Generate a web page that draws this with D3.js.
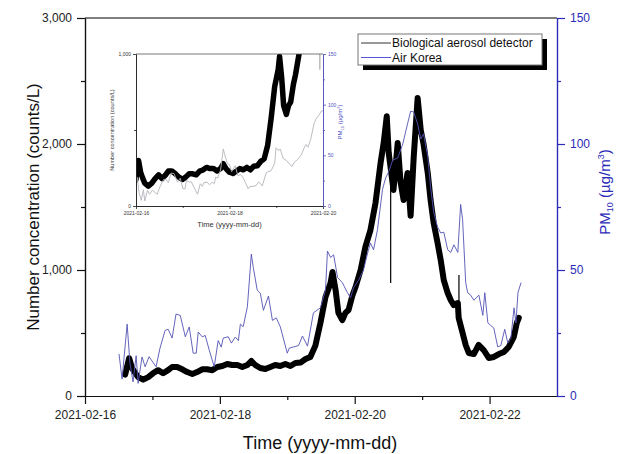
<!DOCTYPE html>
<html>
<head>
<meta charset="utf-8">
<script src="https://cdn.jsdelivr.net/npm/d3@7/dist/d3.min.js"></script>
<style>
  body { margin: 0; background: #fff; }
  svg, svg text { font-family: "Liberation Sans", Arial, sans-serif; }
</style>
</head>
<body>
<div class="canvas"></div>
<script>
// Biological aerosol detector (hours since 2021-02-16 00:00, counts/L)
const bioHours = [14.3, 15.7, 16.8, 17.8, 18.9, 20.7, 22.5, 24.2, 26.0, 27.8, 29.6, 31.0, 32.8, 34.6, 36.4,
  38.2, 39.9, 41.7, 43.5, 45.3, 47.1, 48.9, 50.6, 52.4, 54.2, 56.0, 57.8, 59.2, 60.6, 62.4, 64.2, 66.0,
  67.7, 69.5, 71.3, 73.1, 74.9, 76.7, 78.5, 80.2, 82.0, 83.8, 85.6, 87.4, 88.1, 89.2, 90.2, 91.6, 92.7,
  93.8, 95.2, 96.3, 98.1, 99.8, 101.6, 103.4, 105.2, 106.3, 107.4, 108.1, 109.8, 111.3, 112.3, 113.4,
  114.8, 115.9, 117.0, 118.4, 119.5, 120.5, 122.0, 123.0, 124.1, 125.5, 126.6, 127.7, 129.1, 130.2,
  131.2, 132.7, 133.0, 134.4, 135.5, 136.6, 138.4, 140.1, 141.9, 143.7, 145.5, 147.3, 149.1, 150.8,
  152.6, 153.7, 154.4];
const bioCounts = [170, 300, 220, 185, 150, 130, 150, 180, 205, 180, 205, 230, 230, 212, 190,
  175, 190, 212, 212, 205, 230, 238, 254, 246, 246, 230, 246, 278, 246, 222, 214, 230,
  246, 238, 254, 238, 262, 265, 294, 310, 400, 580, 786, 897, 984, 840, 660, 603, 660,
  683, 800, 865, 1000, 1183, 1317, 1532, 1849, 2008, 2220, 1929, 1635, 2008, 1700, 1556,
  1770, 1430, 1897, 2365, 2111, 2000, 1770, 1556, 1373, 1214, 1080, 920, 817, 760,
  722, 738, 620, 500, 405, 341, 333, 405, 365, 302, 310, 333, 349, 389,
  468, 580, 620];

// single-sample spikes of the detector
const spikeHours = [108.8, 133.1];
const spikeFrom = [1900, 640];
const spikeTo = [897, 960];

// Air Korea PM10 (hours since 2021-02-16 00:00, ug/m3)
const pmHours = [12.1, 13.2, 15.0, 16.0, 17.1, 18.2, 18.9, 20.3, 21.4, 22.8, 25.3, 26.7, 28.5, 29.6,
  31.0, 32.4, 33.9, 35.7, 37.1, 38.5, 39.6, 40.3, 41.7, 42.8, 44.2, 46.0, 47.4, 48.5, 49.2, 51.0,
  52.1, 53.5, 54.6, 55.3, 56.3, 57.8, 59.2, 59.9, 61.3, 62.4, 63.5, 65.3, 66.7, 68.1, 69.5, 72.0,
  72.7, 76.0, 77.4, 79.2, 81.3, 83.8, 85.6, 86.3, 87.4, 88.5, 89.9, 91.6, 93.4, 94.5, 95.6, 97.4,
  99.1, 100.6, 101.6, 102.7, 104.1, 105.9, 107.0, 108.1, 109.5, 111.3, 113.1, 114.8, 115.9, 117.0,
  118.4, 119.5, 120.5, 122.0, 123.0, 124.1, 125.5, 126.6, 127.7, 129.1, 130.2, 131.3, 132.7, 133.7,
  134.4, 135.5, 136.2, 137.3, 138.4, 140.2, 141.6, 142.3, 143.4, 144.4, 145.5, 146.9, 148.0, 149.4,
  150.5, 151.6, 152.7, 153.4, 154.1, 155.2];
const pmValues = [16.7, 6.7, 28.5, 13, 5.6, 16, 5, 15.5, 11.6, 15.6, 11.6, 19, 26, 26.5,
  23, 32.5, 32, 23.5, 27.4, 17, 17, 25.4, 23.5, 24, 18.3, 11.6, 22, 19.4, 23, 23.5,
  21, 23.4, 22, 28.5, 27.5, 35.4, 56.3, 51, 42, 40.8, 34, 39.7, 30, 31, 27.5, 17,
  19, 20, 23.8, 19.8, 33, 35, 42, 57.5, 55, 56, 47, 45, 41, 39, 43, 46,
  50, 56.7, 60.7, 58, 66, 82, 86.5, 89, 93.6, 94.4, 100, 108, 113, 112.7,
  108, 102, 104, 95, 83, 73, 67, 64.7, 65, 58, 57, 60, 57, 76,
  70, 45, 41, 40, 38, 40, 32, 41, 29, 28, 27, 19.5, 20, 26.5,
  21, 23, 35, 29, 41, 45];

const countTicks = [0, 1000, 2000, 3000];
const countMinor = [500, 1500, 2500];
const pmTicks = [0, 50, 100, 150];
const pmMinor = [25, 75, 125];
const dateTicks = ['2021-02-16', '2021-02-18', '2021-02-20', '2021-02-22'];
const dateMinor = ['2021-02-17', '2021-02-19', '2021-02-21'];
const seriesNames = ['Biological aerosol detector', 'Air Korea'];

// inset window: 96 h starting at the first detector sample
const insetStartHour = 14.4;
const insetTickHours = [0, 48, 96];
const insetMinorHours = [24, 72];

const parseDay = d3.timeParse('%Y-%m-%d');
const t0 = parseDay('2021-02-16');
const atHour = h => d3.timeMinute.offset(t0, Math.round(h * 60));

const bioData = bioHours.map((h, i) => ({ t: atHour(h), v: bioCounts[i] }));
const pmData = pmHours.map((h, i) => ({ t: atHour(h), v: pmValues[i] }));
const spikes = spikeHours.map((h, i) => ({ t: atHour(h), a: spikeFrom[i], b: spikeTo[i] }));

const blue = '#2b2bb8';
const pmLine = '#5252b4';

const svg = d3.select('.canvas')
  .append('svg')
  .attr('width', 617)
  .attr('height', 454);

// ---------- main chart ----------
const plot = { left: 85, right: 557, top: 18, bottom: 396 };

const x = d3.scaleTime()
  .domain([parseDay('2021-02-16'), parseDay('2021-02-23')])
  .range([plot.left, plot.right]);
const y = d3.scaleLinear().domain([0, 3000]).range([plot.bottom, plot.top]);
const yR = d3.scaleLinear().domain([0, 150]).range([plot.bottom, plot.top]);

svg.append('clipPath').attr('id', 'clipMain')
  .append('rect')
  .attr('x', plot.left).attr('y', plot.top)
  .attr('width', plot.right - plot.left).attr('height', plot.bottom - plot.top);

const graph = svg.append('g').attr('clip-path', 'url(#clipMain)');

const bioLine = d3.line().x(d => x(d.t)).y(d => y(d.v));
const pmPath = d3.line().x(d => x(d.t)).y(d => yR(d.v));

graph.append('path')
  .datum(bioData)
  .attr('d', bioLine)
  .attr('fill', 'none')
  .attr('stroke', '#000')
  .attr('stroke-width', 6)
  .attr('stroke-linejoin', 'round')
  .attr('stroke-linecap', 'round');

graph.selectAll('.spike')
  .data(spikes)
  .enter().append('line')
  .attr('x1', d => x(d.t)).attr('x2', d => x(d.t))
  .attr('y1', d => y(d.a)).attr('y2', d => y(d.b))
  .attr('stroke', '#000').attr('stroke-width', 1.2);

graph.append('path')
  .datum(pmData)
  .attr('d', pmPath)
  .attr('fill', 'none')
  .attr('stroke', pmLine)
  .attr('stroke-width', 0.9);

// top frame line
svg.append('line')
  .attr('x1', plot.left).attr('x2', plot.right)
  .attr('y1', plot.top).attr('y2', plot.top)
  .attr('stroke', '#000').attr('stroke-width', 1.2);

// left axis
svg.append('g').attr('transform', `translate(${plot.left},0)`)
  .call(d3.axisLeft(y).tickValues(countTicks).tickSize(8).tickSizeOuter(0).tickPadding(5)
    .tickFormat(d3.format(',')));
svg.append('g').attr('transform', `translate(${plot.left},0)`)
  .call(d3.axisLeft(y).tickValues(countMinor).tickSize(4).tickSizeOuter(0).tickFormat(''));

// bottom axis
svg.append('g').attr('transform', `translate(0,${plot.bottom})`)
  .call(d3.axisBottom(x).tickValues(dateTicks.map(parseDay)).tickSize(8).tickSizeOuter(0)
    .tickPadding(6).tickFormat(d3.timeFormat('%Y-%m-%d')));
svg.append('g').attr('transform', `translate(0,${plot.bottom})`)
  .call(d3.axisBottom(x).tickValues(dateMinor.map(parseDay)).tickSize(4).tickSizeOuter(0).tickFormat(''));

// right axis
svg.append('g').attr('class', 'raxis').attr('transform', `translate(${plot.right},0)`)
  .call(d3.axisRight(yR).tickValues(pmTicks).tickSize(8).tickSizeOuter(0).tickPadding(5));
svg.append('g').attr('class', 'raxis').attr('transform', `translate(${plot.right},0)`)
  .call(d3.axisRight(yR).tickValues(pmMinor).tickSize(4).tickSizeOuter(0).tickFormat(''));

svg.selectAll('g').attr('font-family', null);
svg.selectAll('.tick text').attr('font-size', 12).attr('fill', '#222');
svg.selectAll('.domain, .tick line').attr('stroke', '#111').attr('stroke-width', 1.2);
svg.selectAll('.raxis .domain, .raxis .tick line').attr('stroke', blue);
svg.selectAll('.raxis .tick text').attr('fill', blue);

// axis titles
svg.append('text')
  .attr('transform', `translate(39,${(plot.top + plot.bottom) / 2}) rotate(-90)`)
  .attr('text-anchor', 'middle')
  .attr('font-size', 17)
  .attr('fill', '#111')
  .text('Number concentration (counts/L)');

svg.append('text')
  .attr('x', (plot.left + plot.right) / 2 - 1)
  .attr('y', 449)
  .attr('text-anchor', 'middle')
  .attr('font-size', 18)
  .attr('fill', '#111')
  .text('Time (yyyy-mm-dd)');

const pmTitle = svg.append('text')
  .attr('transform', `translate(610,192) rotate(-90)`)
  .attr('text-anchor', 'middle')
  .attr('font-size', 15)
  .attr('fill', blue);
pmTitle.append('tspan').text('PM');
pmTitle.append('tspan').attr('font-size', 9).attr('dy', 3).text('10');
pmTitle.append('tspan').attr('dy', -3).text(' (µg/m');
pmTitle.append('tspan').attr('font-size', 9).attr('dy', -6).text('3');
pmTitle.append('tspan').attr('dy', 6).text(')');

// ---------- legend ----------
const legend = svg.append('g').attr('transform', 'translate(358,34)');
legend.append('rect').attr('x', 5).attr('y', 5).attr('width', 184).attr('height', 31).attr('fill', '#000');
legend.append('rect').attr('x', 0).attr('y', 0).attr('width', 184).attr('height', 31)
  .attr('fill', '#fff').attr('stroke', '#777').attr('stroke-width', 1);
const legendColors = ['#333', '#5555d8'];
seriesNames.forEach((name, i) => {
  const ly = 9 + i * 14.5;
  legend.append('line').attr('x1', 3).attr('x2', 33).attr('y1', ly).attr('y2', ly)
    .attr('stroke', legendColors[i]).attr('stroke-width', 1);
  legend.append('text').attr('x', 34).attr('y', ly + 4).attr('font-size', 12).attr('fill', '#111').text(name);
});

// ---------- inset ----------
const inset = { left: 136, right: 323, top: 54, bottom: 206 };
const insetStart = atHour(insetStartHour);

const xi = d3.scaleTime()
  .domain([insetStart, atHour(insetStartHour + 96)])
  .range([inset.left, inset.right]);
const yi = d3.scaleLinear().domain([0, 1000]).range([inset.bottom, inset.top]);
const yiR = d3.scaleLinear().domain([0, 150]).range([inset.bottom, inset.top]);

const ig = svg.append('g');
ig.append('rect').attr('x', 106).attr('y', 46).attr('width', 242).attr('height', 186).attr('fill', '#fff');

svg.append('clipPath').attr('id', 'clipInset')
  .append('rect')
  .attr('x', inset.left).attr('y', inset.top)
  .attr('width', inset.right - inset.left).attr('height', inset.bottom - inset.top);

const ip = ig.append('g').attr('clip-path', 'url(#clipInset)');

ip.append('path')
  .datum(bioData)
  .attr('d', d3.line().x(d => xi(d.t)).y(d => yi(d.v)))
  .attr('fill', 'none')
  .attr('stroke', '#000')
  .attr('stroke-width', 5.5)
  .attr('stroke-linejoin', 'round')
  .attr('stroke-linecap', 'round');

ip.selectAll('.spike')
  .data(spikes)
  .enter().append('line')
  .attr('x1', d => xi(d.t)).attr('x2', d => xi(d.t))
  .attr('y1', d => yi(d.a)).attr('y2', d => yi(d.b))
  .attr('stroke', '#999').attr('stroke-width', 1);

ip.append('path')
  .datum(pmData)
  .attr('d', d3.line().x(d => xi(d.t)).y(d => yiR(d.v)))
  .attr('fill', 'none')
  .attr('stroke', '#b4b4bc')
  .attr('stroke-width', 0.9);

ig.append('line')
  .attr('x1', inset.left).attr('x2', inset.right)
  .attr('y1', inset.top).attr('y2', inset.top)
  .attr('stroke', '#555').attr('stroke-width', 0.8);

ig.append('g').attr('class', 'iaxis').attr('transform', `translate(${inset.left},0)`)
  .call(d3.axisLeft(yi).tickValues([0, 1000]).tickSize(3).tickSizeOuter(0).tickPadding(2)
    .tickFormat(d3.format(',')));
ig.append('g').attr('class', 'iaxis').attr('transform', `translate(${inset.left},0)`)
  .call(d3.axisLeft(yi).tickValues([500]).tickSize(2).tickSizeOuter(0).tickFormat(''));

ig.append('g').attr('class', 'iaxis').attr('transform', `translate(0,${inset.bottom})`)
  .call(d3.axisBottom(xi).tickValues(insetTickHours.map(h => atHour(insetStartHour + h)))
    .tickSize(3).tickSizeOuter(0).tickPadding(2).tickFormat(d3.timeFormat('%Y-%m-%d')));
ig.append('g').attr('class', 'iaxis').attr('transform', `translate(0,${inset.bottom})`)
  .call(d3.axisBottom(xi).tickValues(insetMinorHours.map(h => atHour(insetStartHour + h)))
    .tickSize(2).tickSizeOuter(0).tickFormat(''));

ig.append('g').attr('class', 'iaxis iraxis').attr('transform', `translate(${inset.right},0)`)
  .call(d3.axisRight(yiR).tickValues(pmTicks).tickSize(3).tickSizeOuter(0).tickPadding(2));
ig.append('g').attr('class', 'iaxis iraxis').attr('transform', `translate(${inset.right},0)`)
  .call(d3.axisRight(yiR).tickValues(pmMinor).tickSize(2).tickSizeOuter(0).tickFormat(''));

ig.selectAll('g').attr('font-family', null);
ig.selectAll('.iaxis .tick text').attr('font-size', 5).attr('fill', '#333');
ig.selectAll('.iaxis .domain, .iaxis .tick line').attr('stroke', '#222').attr('stroke-width', 0.8);
ig.selectAll('.iraxis .domain, .iraxis .tick line').attr('stroke', '#5050c0');
ig.selectAll('.iraxis .tick text').attr('fill', '#5050c0');

ig.append('text')
  .attr('transform', `translate(114,130) rotate(-90)`)
  .attr('text-anchor', 'middle')
  .attr('font-size', 5.6)
  .attr('fill', '#333')
  .text('Number concentration (counts/L)');

ig.append('text')
  .attr('x', (inset.left + inset.right) / 2)
  .attr('y', 227)
  .attr('text-anchor', 'middle')
  .attr('font-size', 7.5)
  .attr('fill', '#333')
  .text('Time (yyyy-mm-dd)');

const ipmTitle = ig.append('text')
  .attr('transform', `translate(342,122) rotate(-90)`)
  .attr('text-anchor', 'middle')
  .attr('font-size', 6)
  .attr('fill', '#5050c0');
ipmTitle.append('tspan').text('PM');
ipmTitle.append('tspan').attr('font-size', 4).attr('dy', 1.5).text('10');
ipmTitle.append('tspan').attr('dy', -1.5).text(' (µg/m');
ipmTitle.append('tspan').attr('font-size', 4).attr('dy', -2.5).text('3');
ipmTitle.append('tspan').attr('dy', 2.5).text(')');
</script>
</body>
</html>
